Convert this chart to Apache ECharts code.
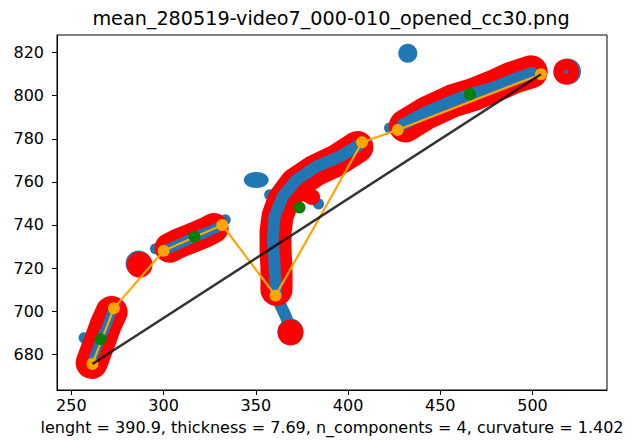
<!DOCTYPE html>
<html>
<head>
<meta charset="utf-8">
<script src="https://cdn.jsdelivr.net/npm/echarts@6/dist/echarts.min.js"></script>
<style>html,body{margin:0;padding:0;background:#fff}#c{width:642px;height:443px}</style>
</head>
<body>
<div id="c"></div>
<script>
const titleText = 'mean_280519-video7_000-010_opened_cc30.png';
const xLabelText = 'lenght = 390.9, thickness = 7.69, n_components = 4, curvature = 1.402';
const xTicks = [250, 300, 350, 400, 450, 500];
const yTicks = [680, 700, 720, 740, 760, 780, 800, 820];

// contour bands (red) centerlines
const comp1Band = [[261.0,676.0],[263.2,681.1],[265.9,687.1],[268.6,693.6],[271.8,699.6]];
const comp2Band = [[303.3,729.4],[308.7,731.7],[316.8,734.4],[323.3,736.8],[327.1,738.6]];
const comp3Band = [[361.2,709.9],[361.2,719.1],[360.7,728.4],[360.7,736.8],[361.8,744.2],[365.0,751.6],[371.5,759.1],[381.8,765.1],[394.3,770.2],[405.1,776.2]];
const comp3Spur = [[373.7,756.3],[380.5,753.0]];
const comp4Band = [[431.1,786.0],[442.5,792.0],[456.6,797.6],[467.4,800.4],[478.2,804.1],[489.0,808.3],[499.3,811.1]];

// object pixels (blue) stripes
const comp1Stripe = [[261.5,677.4],[265.9,687.1],[269.1,693.2],[271.8,699.2]];
const comp2Stripe = [[302.2,728.9],[308.7,731.2],[316.8,734.4],[324.9,737.2],[329.8,739.1]];
const comp3Stripe = [[361.0,708.3],[360.1,722.2],[359.2,733.1],[360.1,743.9],[364.6,753.2],[371.9,760.9],[382.7,767.1],[395.3,771.7],[406.2,777.2]];
const comp3Tail = [[361.5,706.0],[365.5,699.0],[368.0,694.0]];
const comp4Stripe = [[429.5,786.5],[442.5,792.5],[455.0,797.1],[466.3,800.8],[478.2,803.6],[489.0,807.3],[499.8,810.6]];

const blueSpots = [[384.0,749.8],[357.5,754.0],[422.5,785.0],[256.9,687.6],[295.6,729.0],[333.4,742.4]];
const blueBlobWide = [[350.2,760.9]];
const blueBlobRound = [[432.4,819.7]];
const blueHalo = [[286.4,722.1],[368.8,690.5],[519.3,811.3]];
const redBlobs = [[287.0,721.5],[368.8,690.1],[518.3,811.1]];
const blueDot = [[518.3,811.1]];

const orangePath = [[261.4,675.5],[273.1,701.4],[300.0,728.0],[331.8,740.0],[360.7,707.2],[407.6,778.4],[426.9,784.1],[504.6,810.0]];
const greenPoints = [[265.9,687.0],[316.8,734.6],[373.7,748.1],[466.1,800.8]];
const chord = [[261.4,675.5],[504.6,810.0]];

const BLUE = '#1f77b4', RED = '#ff0000';
const FONT = 'DejaVu Sans';

let zc = 1;
function band(data, color, width) {
  return {type:'line', data, symbol:'none', silent:true, z:zc++,
    lineStyle:{color, width, cap:'round', join:'round'}};
}
function dots(data, color, size) {
  return {type:'scatter', data, symbol:'circle', symbolSize:size, silent:true, z:zc++,
    itemStyle:{color, opacity:1}};
}

const series = [
  dots(blueHalo, BLUE, 26),
  dots(blueBlobWide, BLUE, [25,16]),
  dots(blueBlobRound, BLUE, 19),
  dots(blueSpots, BLUE, 11),
  band(comp3Tail, BLUE, 12),
  band(comp1Band, RED, 32),
  band(comp2Band, RED, 30),
  band(comp3Band, RED, 32),
  band(comp3Spur, RED, 16),
  band(comp4Band, RED, 33),
  dots(redBlobs, RED, 26),
  band(comp1Stripe, BLUE, 9),
  band(comp2Stripe, BLUE, 10),
  band(comp3Stripe, BLUE, 12),
  band(comp4Stripe, BLUE, 12),
  dots(blueDot, BLUE, 4)
];
series.push({type:'line', data:orangePath, symbol:'circle', symbolSize:12, silent:true, z:zc++,
  lineStyle:{color:'#ffa500', width:2.2}, itemStyle:{color:'#ffa500', borderWidth:0}});
series.push(dots(greenPoints, '#008000', 12));
series.push({type:'line', data:chord, symbol:'none', silent:true, z:zc++,
  lineStyle:{color:'rgba(0,0,0,0.8)', width:2.5}});

const chart = echarts.init(document.getElementById('c'), null, {renderer:'svg'});
chart.setOption({
  animation:false,
  backgroundColor:'#fff',
  grid:{left:57, right:35, top:35, bottom:53, show:true, borderColor:'#000', borderWidth:1, backgroundColor:'transparent', z:0},
  graphic:[{type:'text', x:331, y:18, style:{text:titleText, textAlign:'center', textVerticalAlign:'middle', font:'19.2px "DejaVu Sans"', fill:'#000'}}],
  xAxis:{type:'value', min:242.2, max:540.4, splitLine:{show:false},
    axisLine:{show:true, lineStyle:{color:'#000', width:1}},
    axisTick:{show:true, length:5, customValues:xTicks, lineStyle:{color:'#000'}},
    axisLabel:{customValues:xTicks, fontFamily:FONT, fontSize:16, color:'#000', margin:7},
    name:xLabelText, nameLocation:'middle', nameGap:29,
    nameTextStyle:{fontFamily:FONT, fontSize:16, color:'#000'}},
  yAxis:{type:'value', min:663.4, max:828.2, splitLine:{show:false},
    axisLine:{show:true, lineStyle:{color:'#000', width:1}},
    axisTick:{show:true, length:5, customValues:yTicks, lineStyle:{color:'#000'}},
    axisLabel:{customValues:yTicks, fontFamily:FONT, fontSize:16, color:'#000', margin:13}},
  series
});
</script>
</body>
</html>
